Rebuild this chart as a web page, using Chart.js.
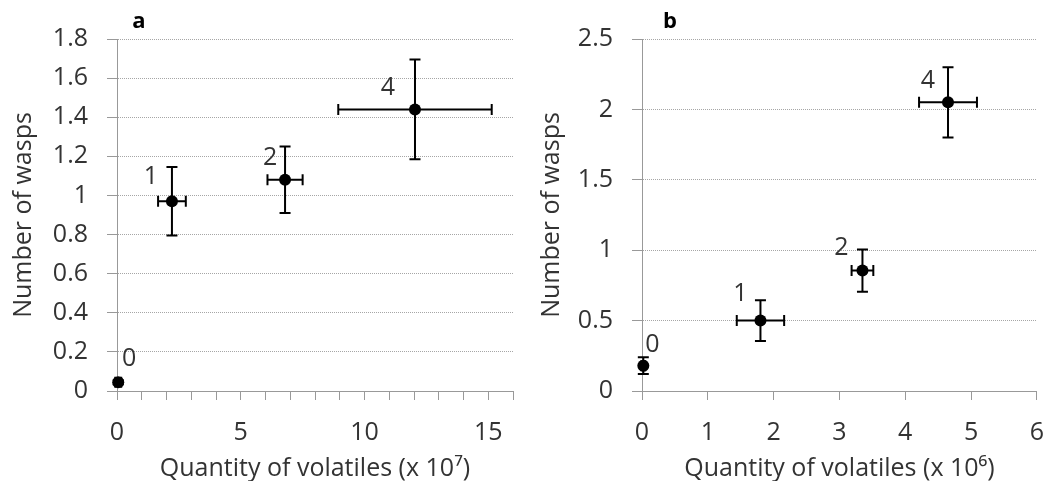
<!DOCTYPE html>
<html>
<head>
<meta charset="utf-8">
<script src="https://cdn.jsdelivr.net/npm/chart.js@4.4.1/dist/chart.umd.min.js"></script>
<style>
  html, body { margin: 0; padding: 0; background: #fff; }
  #painel { position: relative; width: 1062px; height: 481px; }
  canvas { position: absolute; top: 0; }
  #graficoA { left: 0; }
  #graficoB { left: 531px; }
</style>
</head>
<body>
<div id="painel">
  <canvas id="graficoA" width="531" height="481"></canvas>
  <canvas id="graficoB" width="531" height="481"></canvas>
</div>
<script>
// Panel a: quantity of volatiles (x 10^7) vs number of wasps
const nomesA = ["0", "1", "2", "4"];
const volatilesA = [0.05, 2.22, 6.79, 12.04];
const vespasA = [0.045, 0.97, 1.08, 1.44];
const erroVolatilesA = [0.12, 0.56, 0.71, 3.1];
const erroVespasA = [0.01, 0.175, 0.17, 0.255];
const xTicksA = [0, 1, 2, 3, 4, 5, 6, 7, 8, 9, 10, 11, 12, 13, 14, 15, 16];
const xRotulosA = [0, 5, 10, 15];
const yTicksA = [0, 0.2, 0.4, 0.6, 0.8, 1, 1.2, 1.4, 1.6, 1.8];

// Panel b: quantity of volatiles (x 10^6) vs number of wasps
const nomesB = ["0", "1", "2", "4"];
const volatilesB = [0.02, 1.80, 3.35, 4.65];
const vespasB = [0.18, 0.50, 0.855, 2.05];
const erroVolatilesB = [0.03, 0.36, 0.165, 0.44];
const erroVespasB = [0.06, 0.145, 0.15, 0.25];
const xTicksB = [0, 1, 2, 3, 4, 5, 6];
const xRotulosB = [0, 1, 2, 3, 4, 5, 6];
const yTicksB = [0, 0.5, 1, 1.5, 2, 2.5];

const corTexto = "#333";
const fonte = "Open Sans";

// Error bars, point labels and the panel letter
function pluginExtras(d) {
    return {
        id: "extras",
        afterDatasetsDraw(chart) {
            const ctx = chart.ctx;
            const sx = chart.scales.x;
            const sy = chart.scales.y;
            const cap = 5.5;
            ctx.save();
            ctx.strokeStyle = "#000";
            ctx.lineWidth = 2;
            for (let i = 0; i < d.xs.length; i++) {
                const px = sx.getPixelForValue(d.xs[i]);
                const py = sy.getPixelForValue(d.ys[i]);
                const x1 = sx.getPixelForValue(d.xs[i] - d.xErr[i]);
                const x2 = sx.getPixelForValue(d.xs[i] + d.xErr[i]);
                const y1 = sy.getPixelForValue(d.ys[i] - d.yErr[i]);
                const y2 = sy.getPixelForValue(d.ys[i] + d.yErr[i]);
                ctx.beginPath();
                ctx.moveTo(x1, py); ctx.lineTo(x2, py);
                ctx.moveTo(x1, py - cap); ctx.lineTo(x1, py + cap);
                ctx.moveTo(x2, py - cap); ctx.lineTo(x2, py + cap);
                ctx.moveTo(px, y1); ctx.lineTo(px, y2);
                ctx.moveTo(px - cap, y1); ctx.lineTo(px + cap, y1);
                ctx.moveTo(px - cap, y2); ctx.lineTo(px + cap, y2);
                ctx.stroke();
            }
            ctx.fillStyle = corTexto;
            ctx.font = `25px "${fonte}"`;
            ctx.textAlign = "center";
            ctx.textBaseline = "middle";
            for (let i = 0; i < d.nomes.length; i++) {
                const px = sx.getPixelForValue(d.xs[i]);
                const py = sy.getPixelForValue(d.ys[i]);
                ctx.fillText(d.nomes[i], px + d.desloc[i][0], py + d.desloc[i][1]);
            }
            ctx.fillStyle = "#000";
            ctx.font = `bold 22px "${fonte}"`;
            ctx.textBaseline = "alphabetic";
            ctx.fillText(d.letra, 139, 28);
            ctx.restore();
        }
    };
}

function criarGrafico(id, d) {
    const pontos = d.xs.map((x, i) => ({ x: x, y: d.ys[i] }));
    return new Chart(document.getElementById(id), {
        type: "scatter",
        data: {
            datasets: [{
                data: pontos,
                pointRadius: 6,
                pointBackgroundColor: "#000",
                pointBorderWidth: 0,
                clip: false
            }]
        },
        options: {
            responsive: false,
            animation: false,
            events: [],
            layout: { padding: { top: 39, right: d.padDireita, left: 0, bottom: 0 } },
            plugins: { legend: { display: false }, tooltip: { enabled: false } },
            scales: {
                x: {
                    type: "linear",
                    min: 0,
                    max: d.xMax,
                    afterBuildTicks: (s) => { s.ticks = d.xTicks.map((v) => ({ value: v })); },
                    afterFit: (s) => { s.height = 90; },
                    ticks: {
                        autoSkip: false,
                        maxRotation: 0,
                        padding: 18,
                        color: corTexto,
                        font: { family: fonte, size: 25 },
                        callback: (v) => (d.xRotulos.includes(v) ? String(v) : "")
                    },
                    grid: { drawOnChartArea: false, drawTicks: true, tickLength: 9, color: "#999", tickColor: "#999" },
                    border: { color: "#999", width: 1 },
                    title: {
                        display: true,
                        text: d.xTitulo,
                        color: corTexto,
                        font: { family: fonte, size: 25, lineHeight: 1 },
                        padding: { top: 0, bottom: 0 }
                    }
                },
                y: {
                    type: "linear",
                    min: 0,
                    max: d.yMax,
                    afterBuildTicks: (s) => { s.ticks = d.yTicks.map((v) => ({ value: v })); },
                    afterFit: (s) => { s.width = d.larguraY; },
                    ticks: {
                        padding: 19,
                        color: corTexto,
                        font: { family: fonte, size: 25 },
                        callback: (v) => String(v)
                    },
                    grid: { color: "#a6a6a6", tickColor: "#999", tickLength: 10, lineWidth: 1 },
                    border: { color: "#999", width: 1, dash: [1, 1] },
                    title: {
                        display: true,
                        text: "Number of wasps",
                        color: corTexto,
                        font: { family: fonte, size: 25 },
                        padding: { top: d.padTituloY, bottom: 0 }
                    }
                }
            }
        },
        plugins: [pluginExtras(d)]
    });
}

criarGrafico("graficoA", {
    xs: volatilesA, ys: vespasA, xErr: erroVolatilesA, yErr: erroVespasA, nomes: nomesA,
    xTicks: xTicksA, xRotulos: xRotulosA, yTicks: yTicksA, xMax: 16, yMax: 1.8,
    xTitulo: "Quantity of volatiles (x 10\u2077)", letra: "a",
    desloc: [[11, -23], [-21, -24], [-15, -22], [-27, -22]],
    larguraY: 117, padDireita: 10, padTituloY: 9
});

criarGrafico("graficoB", {
    xs: volatilesB, ys: vespasB, xErr: erroVolatilesB, yErr: erroVespasB, nomes: nomesB,
    xTicks: xTicksB, xRotulos: xRotulosB, yTicks: yTicksB, xMax: 6, yMax: 2.5,
    xTitulo: "Quantity of volatiles (x 10\u2076)", letra: "b",
    desloc: [[9, -21], [-20, -27], [-21, -23], [-20, -21]],
    larguraY: 111, padDireita: 9, padTituloY: 6
});
</script>
</body>
</html>
